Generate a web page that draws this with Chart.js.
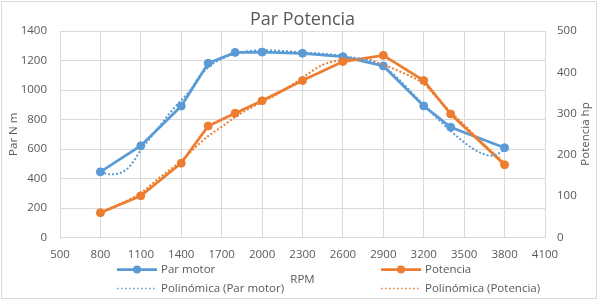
<!DOCTYPE html>
<html>
<head>
<meta charset="utf-8">
<script src="https://cdn.jsdelivr.net/npm/chart.js@4.4.0/dist/chart.umd.min.js"></script>
<style>
html,body{margin:0;padding:0;background:#ffffff;}
#wrap{width:605px;height:299px;position:relative;}
</style>
</head>
<body>
<div id="wrap"><canvas id="c" width="605" height="299"></canvas></div>
<script>
// ---- data ----
const chartTitle = 'Par Potencia';
const xTitle = 'RPM';
const yLeftTitle = 'Par N m';
const yRightTitle = 'Potencia hp';
const seriesNames = ['Par motor', 'Potencia', 'Polinómica (Par motor)', 'Polinómica (Potencia)'];

const rpm      = [800, 1100, 1400, 1600, 1800, 2000, 2300, 2600, 2900, 3200, 3400, 3800];
const parMotor = [445, 622, 891, 1181, 1255, 1257, 1249, 1226, 1163, 892, 747, 609];
const potencia = [60, 101, 180, 270, 301, 331, 380, 426, 441, 380, 299, 176];

// dotted polynomial trendlines
const trendParRpm = [800, 870, 945, 1020, 1100, 1240, 1310, 1390, 1465, 1535, 1610, 1710, 1800, 2000, 2300, 2600, 2900, 3200, 3420, 3560, 3630, 3700, 3760, 3800];
const trendPar    = [445, 428, 436, 485, 592, 755, 838, 921, 995, 1090, 1160, 1215, 1245, 1270, 1255, 1230, 1158, 898, 706, 605, 571, 555, 572, 600];
const trendPotRpm = [800, 1100, 1220, 1400, 1510, 1610, 1710, 1800, 1980, 2130, 2300, 2450, 2600, 2750, 2900, 3050, 3200, 3320, 3470, 3570, 3640, 3800];
const trendPot    = [60, 108, 140, 186, 220, 248, 270, 292, 325, 350, 387, 418, 430, 432, 418, 398, 372, 330, 282, 250, 228, 180];

const xTicks = {min: 500, max: 4100, step: 300};
const yLeftTicks = {min: 0, max: 1400, step: 200};
const yRightTicks = {min: 0, max: 500, step: 100};

// ---- styling ----
const FONT = "'Open Sans', 'Liberation Sans', sans-serif";
const TXT = '#595959';
const GRID = '#d9d9d9';
const BLUE = '#5B9BD5';
const ORANGE = '#ED7D31';

const toXY = (xs, ys) => xs.map((x, i) => ({x: x, y: ys[i]}));
const plain = v => String(v);

const extras = {
  id: 'extras',
  afterDraw(chart) {
    const ctx = chart.ctx;
    ctx.save();
    // chart area border
    ctx.strokeStyle = GRID;
    ctx.lineWidth = 1;
    ctx.strokeRect(1.5, 1.5, 595, 297);

    // right axis title (reads bottom to top)
    ctx.fillStyle = TXT;
    ctx.font = '11.5px ' + FONT;
    ctx.textAlign = 'center';
    ctx.textBaseline = 'middle';
    ctx.save();
    ctx.translate(586, 134);
    ctx.rotate(-Math.PI / 2);
    ctx.fillText(yRightTitle, 0, 0);
    ctx.restore();

    // legend
    const items = [
      {label: seriesNames[0], color: BLUE, solid: true, x: 117, y: 269.5},
      {label: seriesNames[1], color: ORANGE, solid: true, x: 381, y: 269.5},
      {label: seriesNames[2], color: BLUE, solid: false, x: 117, y: 288.5},
      {label: seriesNames[3], color: ORANGE, solid: false, x: 381, y: 288.5}
    ];
    items.forEach(it => {
      ctx.save();
      ctx.strokeStyle = it.color;
      ctx.fillStyle = it.color;
      if (it.solid) {
        ctx.lineWidth = 2.75;
        ctx.setLineDash([]);
        ctx.beginPath();
        ctx.moveTo(it.x, it.y);
        ctx.lineTo(it.x + 40, it.y);
        ctx.stroke();
        ctx.beginPath();
        ctx.arc(it.x + 20, it.y, 4, 0, Math.PI * 2);
        ctx.fill();
      } else {
        ctx.lineWidth = 1.5;
        ctx.setLineDash([1.5, 2.5]);
        ctx.beginPath();
        ctx.moveTo(it.x, it.y);
        ctx.lineTo(it.x + 40, it.y);
        ctx.stroke();
      }
      ctx.restore();
      ctx.fillStyle = TXT;
      ctx.font = '11.5px ' + FONT;
      ctx.textAlign = 'left';
      ctx.textBaseline = 'middle';
      ctx.fillText(it.label, it.x + 44, it.y);
    });
    ctx.restore();
  }
};

new Chart(document.getElementById('c'), {
  type: 'line',
  data: {
    datasets: [
      {
        label: seriesNames[2],
        data: toXY(trendParRpm, trendPar),
        yAxisID: 'y',
        borderColor: BLUE,
        borderWidth: 2,
        borderDash: [2, 2],
        pointRadius: 0,
        cubicInterpolationMode: 'monotone',
        fill: false,
        order: 0
      },
      {
        label: seriesNames[3],
        data: toXY(trendPotRpm, trendPot),
        yAxisID: 'y1',
        borderColor: ORANGE,
        borderWidth: 2,
        borderDash: [2, 2],
        pointRadius: 0,
        cubicInterpolationMode: 'monotone',
        fill: false,
        order: 0
      },
      {
        label: seriesNames[1],
        data: toXY(rpm, potencia),
        yAxisID: 'y1',
        borderColor: ORANGE,
        backgroundColor: ORANGE,
        borderWidth: 2.75,
        pointRadius: 4,
        pointBackgroundColor: ORANGE,
        pointBorderColor: ORANGE,
        pointBorderWidth: 1,
        tension: 0,
        fill: false,
        order: 1
      },
      {
        label: seriesNames[0],
        data: toXY(rpm, parMotor),
        yAxisID: 'y',
        borderColor: BLUE,
        backgroundColor: BLUE,
        borderWidth: 2.75,
        pointRadius: 4,
        pointBackgroundColor: BLUE,
        pointBorderColor: BLUE,
        pointBorderWidth: 1,
        tension: 0,
        fill: false,
        order: 2
      }
    ]
  },
  options: {
    responsive: false,
    devicePixelRatio: 1,
    animation: false,
    events: [],
    layout: {padding: 0},
    plugins: {
      legend: {display: false},
      tooltip: {enabled: false},
      title: {
        display: true,
        text: chartTitle,
        color: TXT,
        font: {family: FONT, size: 18, weight: 'normal', lineHeight: 1.2},
        padding: {top: 9, bottom: 0.4}
      }
    },
    scales: {
      x: {
        type: 'linear',
        position: 'bottom',
        min: xTicks.min,
        max: xTicks.max,
        afterFit(s) { s.height = 61.5; },
        ticks: {
          stepSize: xTicks.step,
          color: TXT,
          font: {family: FONT, size: 11.5},
          padding: 10,
          maxRotation: 0,
          autoSkip: false,
          callback: plain
        },
        grid: {color: GRID, lineWidth: 1, drawTicks: false},
        border: {display: true, color: GRID},
        title: {
          display: true,
          text: xTitle,
          color: TXT,
          font: {family: FONT, size: 11.5, lineHeight: 1.2},
          padding: {top: 0, bottom: 12}
        }
      },
      y: {
        type: 'linear',
        position: 'left',
        min: yLeftTicks.min,
        max: yLeftTicks.max,
        afterFit(s) { s.width = 60; },
        ticks: {
          stepSize: yLeftTicks.step,
          color: TXT,
          font: {family: FONT, size: 11.5},
          padding: 13,
          callback: plain
        },
        grid: {color: GRID, lineWidth: 1, drawTicks: false},
        border: {display: false},
        title: {
          display: true,
          text: yLeftTitle,
          color: TXT,
          font: {family: FONT, size: 11.5, lineHeight: 1.2},
          padding: {top: 6.5, bottom: 0}
        }
      },
      y1: {
        type: 'linear',
        position: 'right',
        min: yRightTicks.min,
        max: yRightTicks.max,
        afterFit(s) { s.width = 60; },
        ticks: {
          stepSize: yRightTicks.step,
          color: TXT,
          font: {family: FONT, size: 11.5},
          padding: 12,
          callback: plain
        },
        grid: {drawOnChartArea: false, drawTicks: false},
        border: {display: false}
      }
    }
  },
  plugins: [extras]
});
</script>
</body>
</html>
